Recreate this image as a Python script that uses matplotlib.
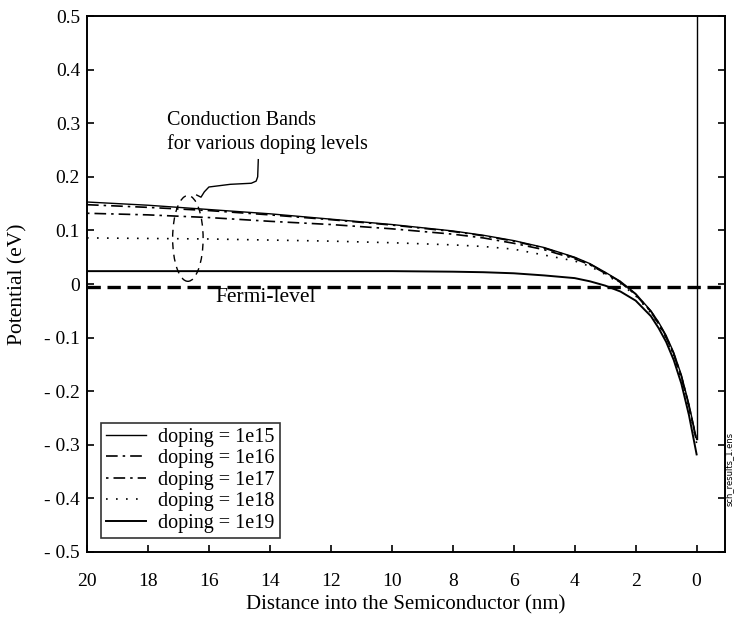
import matplotlib
matplotlib.use("Agg")
import matplotlib.pyplot as plt
from matplotlib.patches import Ellipse

plt.rcParams['font.family'] = ['Liberation Serif', 'DejaVu Serif']

# distance into the semiconductor (nm)
x = [20, 18, 16, 14, 12, 10, 8, 7, 6, 5, 4, 3.5, 3, 2.5, 2, 1.5, 1.25, 1, 0.75, 0.5, 0.25, 0]

cb_1e15 = [0.153, 0.147, 0.139, 0.131, 0.121, 0.111, 0.099, 0.091, 0.081, 0.068, 0.050, 0.038,
           0.022, 0.005, -0.018, -0.050, -0.071, -0.096, -0.128, -0.170, -0.225, -0.290]
cb_1e16 = [0.148, 0.143, 0.137, 0.129, 0.120, 0.110, 0.098, 0.090, 0.080, 0.067, 0.049, 0.037,
           0.021, 0.004, -0.019, -0.051, -0.072, -0.098, -0.130, -0.172, -0.227, -0.292]
cb_1e17 = [0.132, 0.129, 0.124, 0.117, 0.111, 0.103, 0.093, 0.086, 0.076, 0.064, 0.047, 0.036,
           0.020, 0.003, -0.020, -0.052, -0.074, -0.100, -0.132, -0.174, -0.229, -0.294]
cb_1e18 = [0.086, 0.085, 0.084, 0.082, 0.080, 0.077, 0.073, 0.070, 0.065, 0.054, 0.043, 0.033,
           0.018, 0.001, -0.022, -0.054, -0.076, -0.102, -0.135, -0.177, -0.232, -0.297]
cb_1e19 = [0.024, 0.024, 0.024, 0.024, 0.024, 0.024, 0.023, 0.022, 0.020, 0.016, 0.011, 0.005,
           -0.003, -0.014, -0.031, -0.060, -0.082, -0.108, -0.142, -0.186, -0.245, -0.318]
fermi = -0.005

labels = ['doping = 1e15', 'doping = 1e16', 'doping = 1e17', 'doping = 1e18', 'doping = 1e19']
yticks = [0.5, 0.4, 0.3, 0.2, 0.1, 0, -0.1, -0.2, -0.3, -0.4, -0.5]
ytick_labels = ['0.5', '0.4', '0.3', '0.2', '0.1', '0', '- 0.1', '- 0.2', '- 0.3', '- 0.4', '- 0.5']
xticks = [20, 18, 16, 14, 12, 10, 8, 6, 4, 2, 0]

fig = plt.figure(figsize=(7.34, 6.17), dpi=100)
ax = fig.add_axes([0.1185, 0.1054, 0.8692, 0.8686])

ax.plot(x, cb_1e15, color='black', lw=1.0, ls='-', label=labels[0])
ax.plot(x, cb_1e16, color='black', lw=1.2, ls=(0, (7, 3, 1.5, 3)), label=labels[1])
ax.plot(x, cb_1e17, color='black', lw=1.2, ls=(0, (1.5, 3, 7, 3)), label=labels[2])
ax.plot(x, cb_1e18, color='black', lw=1.2, ls=(0, (1, 5)), label=labels[3])
ax.plot(x, cb_1e19, color='black', lw=1.4, ls='-', label=labels[4])

# barrier at the surface
ax.plot([0, 0], [0.5, -0.29], color='black', lw=1.0)
# Fermi level
ax.axhline(fermi, color='black', lw=2.4, ls=(0, (4, 2)))

ax.set_xlim(20, -0.93)
ax.set_ylim(-0.5, 0.5)
ax.set_xticks(xticks)
ax.set_xticklabels([str(t) for t in xticks])
ax.set_yticks(yticks)
ax.set_yticklabels(ytick_labels)
ax.tick_params(direction='in', labelsize=14, length=5, width=1.2, top=False, right=True)
ax.tick_params(axis='x', pad=15)
ax.tick_params(axis='y', pad=5)
for s in ax.spines.values():
    s.set_linewidth(1.4)

ax.set_xlabel('Distance into the Semiconductor (nm)', fontsize=15, labelpad=4)
ax.set_ylabel('Potential (eV)', fontsize=15.5, labelpad=12)

# annotations
ax.text(17.38, 0.283, 'Conduction Bands\nfor various doping levels', fontsize=14.5,
        ha='left', va='center', linespacing=1.25)
ax.plot([14.38, 14.40, 14.45, 14.61, 15.3, 16.0, 16.15, 16.26, 16.4],
        [0.232, 0.200, 0.192, 0.188, 0.186, 0.181, 0.172, 0.162, 0.166],
        color='black', lw=1.0)
ax.add_patch(Ellipse((16.69, 0.085), 1.0, 0.16, fill=False, color='black', lw=1.0, ls=(0, (5, 4))))
ax.text(15.77, -0.026, 'Fermi-level', fontsize=15.5, ha='left', va='center')

leg = ax.legend(loc='lower left', bbox_to_anchor=(0.012, 0.015), fontsize=14.5, frameon=True, fancybox=False,
                edgecolor='black', handlelength=2.0, handletextpad=0.6, labelspacing=0.12,
                borderpad=0.25, borderaxespad=0.3)
leg.get_frame().set_linewidth(1.2)

fig.text(0.9935, 0.24, 'sch_results_1.ens', rotation=90, fontsize=6, family='DejaVu Sans',
         ha='center', va='center')

fig.savefig('out.png', dpi=100)
